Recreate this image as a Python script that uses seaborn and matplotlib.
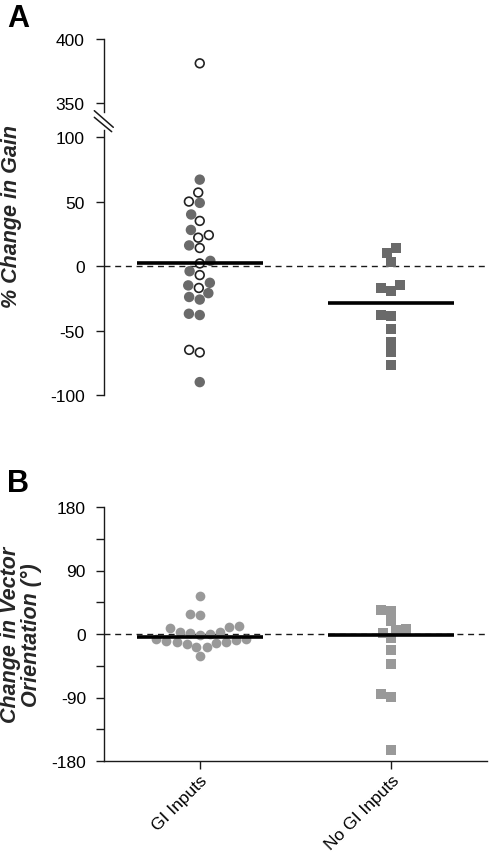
import numpy as np
import pandas as pd
import matplotlib
matplotlib.use("Agg")
import matplotlib.pyplot as plt
from matplotlib.lines import Line2D
import seaborn as sns

# ---------------- data ----------------
groups = ["GI Inputs", "No GI Inputs"]
gain_gi_filled = [67, 49, 40, 28, 16, 4, -4, -13, -15, -21, -24, -26, -37, -38, -90]
gain_gi_open = [381, 57, 50, 35, 24, 22, 14, 2, -7, -17, -65, -67]
gain_nogi = [14, 10, 3, -15, -17, -19, -38, -39, -49, -59, -67, -77]
orient_gi = [54, 28, 27, 11, 9, 10, 3, 2, 0, -1, 3, -7, -8, -7, -10, -11,
             -11, -13, -14, -18, -18, -31]
orient_nogi = [34, 33, 19, 7, 6, 2, -6, -23, -42, -85, -89, -165]

gain_top_ticks = [350, 400]
gain_ticks = [-100, -50, 0, 50, 100]
orient_ticks = [-180, -135, -90, -45, 0, 45, 90, 135, 180]
orient_labels = ["-180", "", "-90", "", "0", "", "90", "", "180"]

# ---------------- style ----------------
sns.set_style("ticks")
plt.rcParams["font.family"] = ["Liberation Sans", "DejaVu Sans"]
plt.rcParams["axes.unicode_minus"] = False

W, H = 490, 853
fig = plt.figure(figsize=(W / 100, H / 100), dpi=100)


def fx(px):
    return px / W


def fy(py):
    return 1 - py / H


left, right = 104, 487
axA_top = fig.add_axes([fx(left), fy(113), fx(right - left), (113 - 40) / H])
axA = fig.add_axes([fx(left), fy(396), fx(right - left), (396 - 131) / H])
axB = fig.add_axes([fx(left), fy(762), fx(right - left), (762 - 508) / H])

dark = "#6a6a6a"
light = "#999999"
spine_c = "#1a1a1a"
ring_c = "#222222"

dfA_gi = pd.DataFrame({
    "group": groups[0],
    "value": gain_gi_filled + gain_gi_open,
    "is_open": [False] * len(gain_gi_filled) + [True] * len(gain_gi_open),
})
dfA_no = pd.DataFrame({"group": groups[1], "value": gain_nogi})
dfB_gi = pd.DataFrame({"group": groups[0], "value": orient_gi})
dfB_no = pd.DataFrame({"group": groups[1], "value": orient_nogi})

open_mask = dfA_gi["is_open"].to_numpy()
dark_rgba = matplotlib.colors.to_rgba(dark)
face_cols = [(1, 1, 1, 1) if o else dark_rgba for o in open_mask]
edge_cols = [matplotlib.colors.to_rgba(ring_c) if o else dark_rgba for o in open_mask]

for ax in (axA_top, axA):
    n_before = len(ax.collections)
    sns.swarmplot(data=dfA_gi, x="group", y="value", order=groups,
                  color=dark, size=6.3, linewidth=1.2, edgecolor=ring_c,
                  ax=ax, zorder=3)
    new = [c for c in ax.collections[n_before:]
           if len(c.get_offsets()) == len(dfA_gi)]
    coll = new[0]
    coll.set_facecolors(face_cols)
    coll.set_edgecolors(edge_cols)
    sns.swarmplot(data=dfA_no, x="group", y="value", order=groups,
                  color=dark, marker="s", size=7, linewidth=0, ax=ax, zorder=3)

sns.swarmplot(data=dfB_gi, x="group", y="value", order=groups,
              color=light, size=7, linewidth=0, ax=axB, zorder=3)
sns.swarmplot(data=dfB_no, x="group", y="value", order=groups,
              color=light, marker="s", size=7, linewidth=0, ax=axB, zorder=3)

# medians
for i, vals in enumerate([gain_gi_filled + gain_gi_open, gain_nogi]):
    m = np.median(vals)
    for ax in (axA_top, axA):
        ax.hlines(m, i - 0.33, i + 0.33, colors="black", lw=2.6, zorder=4)
for i, vals in enumerate([orient_gi, orient_nogi]):
    axB.hlines(np.median(vals), i - 0.33, i + 0.33, colors="black", lw=2.6, zorder=4)

# zero lines
for ax in (axA, axB):
    ax.axhline(0, color=spine_c, lw=1.0, ls=(0, (4.3, 3.4)), zorder=2)

# limits & axes
for ax in (axA_top, axA, axB):
    ax.set_xlim(-0.5, 1.5)
    ax.set_xlabel("")
    ax.set_ylabel("")
    ax.spines["top"].set_visible(False)
    ax.spines["right"].set_visible(False)
    ax.spines["left"].set_color(spine_c)
    ax.spines["left"].set_linewidth(1.0)
    ax.tick_params(axis="y", length=6, width=1.0, pad=8, labelsize=12.5,
                   color=spine_c, labelcolor="black")

axA_top.set_ylim(343, 400)
axA_top.set_yticks(gain_top_ticks)
axA_top.set_yticklabels([str(t) for t in gain_top_ticks])
axA.set_ylim(-100, 105.5)
axA.set_yticks(gain_ticks)
axA.set_yticklabels([str(t) for t in gain_ticks])
for ax in (axA_top, axA):
    ax.spines["bottom"].set_visible(False)
    ax.tick_params(axis="x", bottom=False, labelbottom=False)

axB.set_ylim(-180, 180)
axB.set_yticks(orient_ticks)
axB.set_yticklabels(orient_labels)
axB.tick_params(axis="y", pad=7)
axB.spines["bottom"].set_color(spine_c)
axB.spines["bottom"].set_linewidth(1.0)
axB.set_xticks([0, 1])
axB.set_xticklabels(groups)
axB.tick_params(axis="x", length=6, width=1.0, pad=2.0, labelsize=12.5,
                color=spine_c, labelcolor="black")
for lab in axB.get_xticklabels():
    lab.set_rotation(45)
    lab.set_ha("right")
    lab.set_va("top")
    lab.set_rotation_mode("anchor")

# axis break marks
for (x1, y1, x2, y2) in [(94.3, 111.7, 113.3, 128.3), (94.3, 118.3, 111.7, 132.7)]:
    fig.add_artist(Line2D([fx(x1), fx(x2)], [fy(y1), fy(y2)],
                          transform=fig.transFigure, color=spine_c, lw=1.1))

# labels
fig.text(fx(12), fy(216), "% Change in Gain", rotation=90, fontsize=15.5,
         fontweight="bold", fontstyle="italic", ha="center", va="center")
fig.text(fx(21), fy(635), "Change in Vector\nOrientation (°)", rotation=90,
         fontsize=15.5, fontweight="bold", fontstyle="italic", ha="center",
         va="center", linespacing=1.0, multialignment="center")
fig.text(fx(7), fy(27), "A", fontsize=22, fontweight="bold", va="baseline",
         color="black")
fig.text(fx(7), fy(492), "B", fontsize=22, fontweight="bold", va="baseline",
         color="black")

fig.savefig("out.png", dpi=100)
